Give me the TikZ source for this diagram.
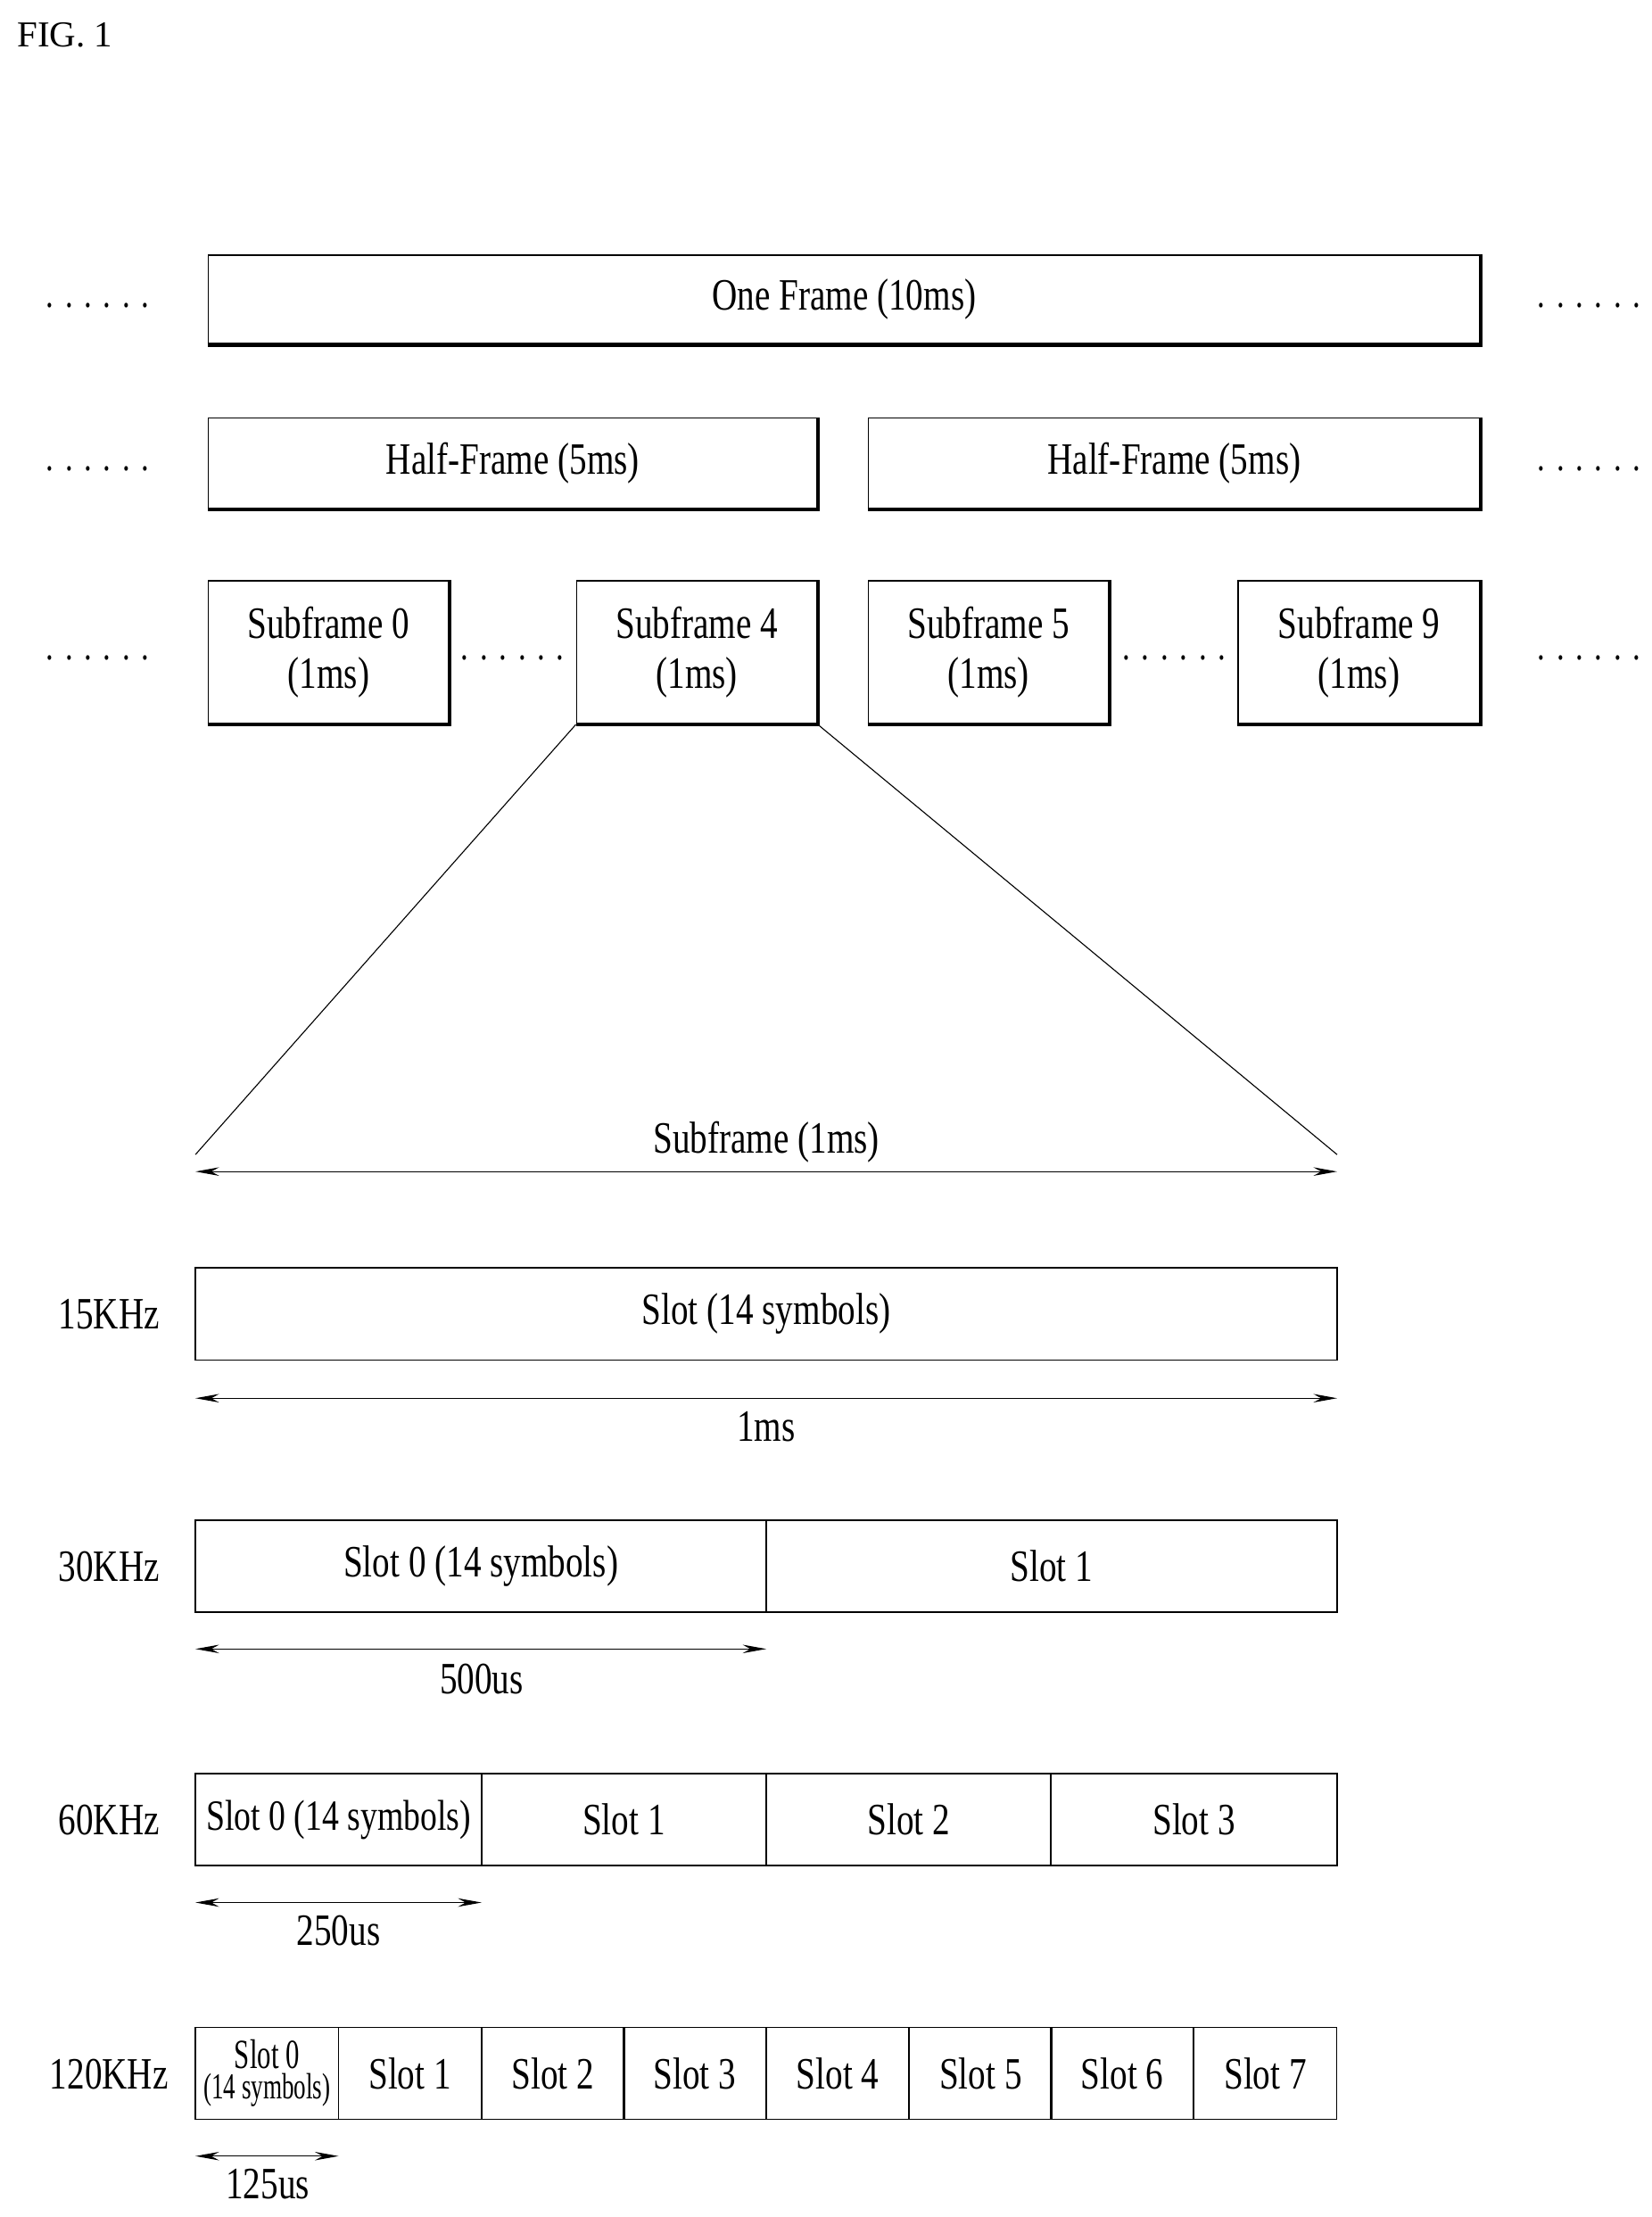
\documentclass[tikz,border=0pt]{standalone}
\usepackage{fontspec}
\setmainfont{Liberation Serif}[FakeStretch=0.78]
\newfontfamily\figfont{Liberation Serif}
\usetikzlibrary{fit,arrows.meta}
\newcommand\dts{.\hspace{2.4mm}.\hspace{2.4mm}.\hspace{2.4mm}.\hspace{2.4mm}.\hspace{2.4mm}.}
\begin{document}
\begin{tikzpicture}[x=0.3mm,y=-0.3mm,
  frm/.style={draw,line width=0.8pt,inner sep=0pt},
  txt/.style={font=\fontsize{27}{30}\selectfont,inner sep=0pt,align=center},
  lbl/.style={font=\fontsize{27}{30}\selectfont,inner sep=0pt},
  dots/.style={font=\fontsize{24}{26}\selectfont,inner sep=0pt,anchor=base},
  shadow/.style={line width=2.4pt},
  dim/.style={line width=0.6pt,{Stealth[length=5mm,width=1.8mm]}-{Stealth[length=5mm,width=1.8mm]}}]
\useasboundingbox (0,0) rectangle (1166,1565);
\node[font=\figfont\fontsize{22}{24}\selectfont,anchor=west,inner sep=0pt] (fig) at (12,25) {FIG. 1};
% frame
\node[frm,fit={(147,180)(1045,243)}] (fr) {};
\node[txt] (frt) at (fr.center) {One Frame (10ms)};
\node[frm,fit={(147,295)(577,359)}] (h1) {};
\node[txt] (h1t) at (h1.center) {Half-Frame (5ms)};
\node[frm,fit={(613,295)(1045,359)}] (h2) {};
\node[txt] (h2t) at (h2.center) {Half-Frame (5ms)};
\node[frm,fit={(147,410)(317,511)}] (s0) {};
\node[txt] (s0t) at (s0.center) {Subframe 0\\(1ms)};
\node[frm,fit={(407,410)(577,511)}] (s4) {};
\node[txt] (s4t) at (s4.center) {Subframe 4\\(1ms)};
\node[frm,fit={(613,410)(783,511)}] (s5) {};
\node[txt] (s5t) at (s5.center) {Subframe 5\\(1ms)};
\node[frm,fit={(874,410)(1045,511)}] (s9) {};
\node[txt] (s9t) at (s9.center) {Subframe 9\\(1ms)};
\foreach \n in {fr,h1,h2,s0,s4,s5,s9}
  \draw[shadow] (\n.south west) -- (\n.south east) -- (\n.north east);
\node[dots] (d1) at (69,217) {\dts};
\node[dots] (d2) at (1122,217) {\dts};
\node[dots] (d3) at (69,332) {\dts};
\node[dots] (d4) at (1122,332) {\dts};
\node[dots] (d5) at (69,466) {\dts};
\node[dots] (d6) at (1122,466) {\dts};
\node[dots] (d7) at (362,466) {\dts};
\node[dots] (d8) at (829,466) {\dts};
% zoom lines
\coordinate (zl) at (138,815);
\coordinate (zr) at (944,815);
\draw[line width=0.6pt] (s4.south west) -- (zl);
\draw[line width=0.6pt] (s4.south east) -- (zr);
\coordinate (a1) at (138,827); \coordinate (a2) at (944,827);
\draw[dim] (a1) -- (a2);
\node[lbl] (sfl) at (541,806) {Subframe (1ms)};
% 15 kHz
\node[lbl] (k15) at (77,928) {15KHz};
\node[frm,fit={(138,895)(944,960)}] (sl15) {};
\node[txt] (sl15t) at (sl15.center) {Slot (14 symbols)};
\coordinate (b1) at (138,987); \coordinate (b2) at (944,987);
\draw[dim] (b1) -- (b2);
\node[lbl] (t15) at (541,1007) {1ms};
% 30 kHz
\node[lbl] (k30) at (77,1106) {30KHz};
\node[frm,fit={(138,1073)(541,1138)}] (s30a) {};
\node[txt] (s30at) at (s30a.center) {Slot 0 (14 symbols)};
\node[frm,fit={(541,1073)(944,1138)}] (s30b) {};
\node[txt] (s30bt) at (s30b.center) {Slot 1};
\coordinate (c1) at (138,1164); \coordinate (c2) at (541,1164);
\draw[dim] (c1) -- (c2);
\node[lbl] (t30) at (340,1185) {500us};
% 60 kHz
\node[lbl] (k60) at (77,1285) {60KHz};
\node[frm,fit={(138,1252)(340,1317)}] (s60a) {};
\node[txt,font=\fontsize{26}{28}\selectfont] (s60at) at (s60a.center) {Slot 0 (14 symbols)};
\node[frm,fit={(340,1252)(541,1317)}] (s60b) {};
\node[txt] (s60bt) at (s60b.center) {Slot 1};
\node[frm,fit={(541,1252)(742,1317)}] (s60c) {};
\node[txt] (s60ct) at (s60c.center) {Slot 2};
\node[frm,fit={(742,1252)(944,1317)}] (s60d) {};
\node[txt] (s60dt) at (s60d.center) {Slot 3};
\coordinate (e1) at (138,1343); \coordinate (e2) at (340,1343);
\draw[dim] (e1) -- (e2);
\node[lbl] (t60) at (239,1363) {250us};
% 120 kHz
\node[lbl] (k120) at (77,1464) {120KHz};
\node[frm,fit={(138,1431)(239,1496)}] (s120a) {};
\node[txt,font=\fontsize{25}{21}\selectfont,xscale=0.85] (s120at) at (s120a.center) {Slot 0\\[-3pt]{\fontsize{22}{21}\selectfont(14 symbols)}};
\foreach \i/\x in {1/239,2/340,3/440,4/541,5/642,6/742,7/843}{
  \pgfmathsetmacro\xe{\x+100.75}
  \node[frm,fit={(\x,1431)(\xe,1496)}] (s120-\i) {};
  \node[txt] (s120t-\i) at (s120-\i.center) {Slot \i};
}
\coordinate (f1) at (138,1522); \coordinate (f2) at (239,1522);
\draw[dim] (f1) -- (f2);
\node[lbl] (t120) at (189,1542) {125us};
\end{tikzpicture}
\end{document}
